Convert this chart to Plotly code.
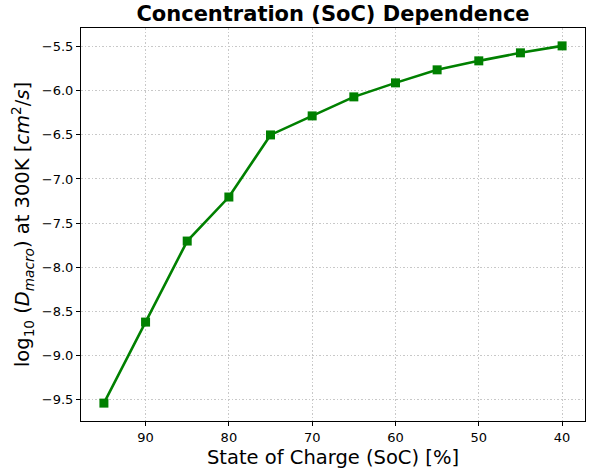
import plotly.graph_objects as go

# State of charge (%) and log10 diffusivity at 300K
soc = [95, 90, 85, 80, 75, 70, 65, 60, 55, 50, 45, 40]
log_d = [-9.545, -8.625, -7.705, -7.205, -6.50, -6.284, -6.068, -5.909, -5.761, -5.659, -5.568, -5.489]

x_ticks = [90, 80, 70, 60, 50, 40]
y_ticks = [-9.5, -9.0, -8.5, -8.0, -7.5, -7.0, -6.5, -6.0, -5.5]

font = "DejaVu Sans"

fig = go.Figure()
fig.add_trace(
    go.Scatter(
        x=soc,
        y=log_d,
        mode="lines+markers",
        line=dict(color="green", width=2.6),
        marker=dict(symbol="square", size=9, color="green"),
        showlegend=False,
    )
)

axis_common = dict(
    showline=True,
    linecolor="black",
    linewidth=1,
    mirror=True,
    ticks="outside",
    ticklen=4,
    tickcolor="black",
    showgrid=True,
    gridcolor="#c8c8c8",
    griddash="1.5px,2px",
    gridwidth=0.8,
    zeroline=False,
    automargin=False,
    tickfont=dict(family=font, size=13, color="black"),
)

fig.update_layout(
    width=589,
    height=474,
    margin=dict(l=81, r=4, t=28, b=53),
    paper_bgcolor="white",
    plot_bgcolor="white",
    title=dict(
        text="<b>Concentration (SoC) Dependence</b>",
        xref="paper",
        x=0.5,
        xanchor="center",
        y=0.971,
        yanchor="middle",
        font=dict(family=font, size=21, color="black"),
    ),
    xaxis=dict(
        range=[97.75, 37.25],
        tickvals=x_ticks,
        title=dict(
            text="State of Charge (SoC) [%]",
            font=dict(family=font, size=19.5, color="black"),
            standoff=6,
        ),
        **axis_common,
    ),
    yaxis=dict(
        range=[-9.748, -5.286],
        tickvals=y_ticks,
        tickformat=".1f",
        title=dict(
            text="log<sub>10</sub> (<i>D</i><sub><i>macro</i></sub>) at 300K [<i>cm</i><sup>2</sup>/<i>s</i>]",
            font=dict(family=font, size=19.5, color="black"),
            standoff=6,
        ),
        **axis_common,
    ),
)

fig.write_html(
    "out.html",
    config={"displayModeBar": False},
    post_script="document.body.style.margin='0';",
)
